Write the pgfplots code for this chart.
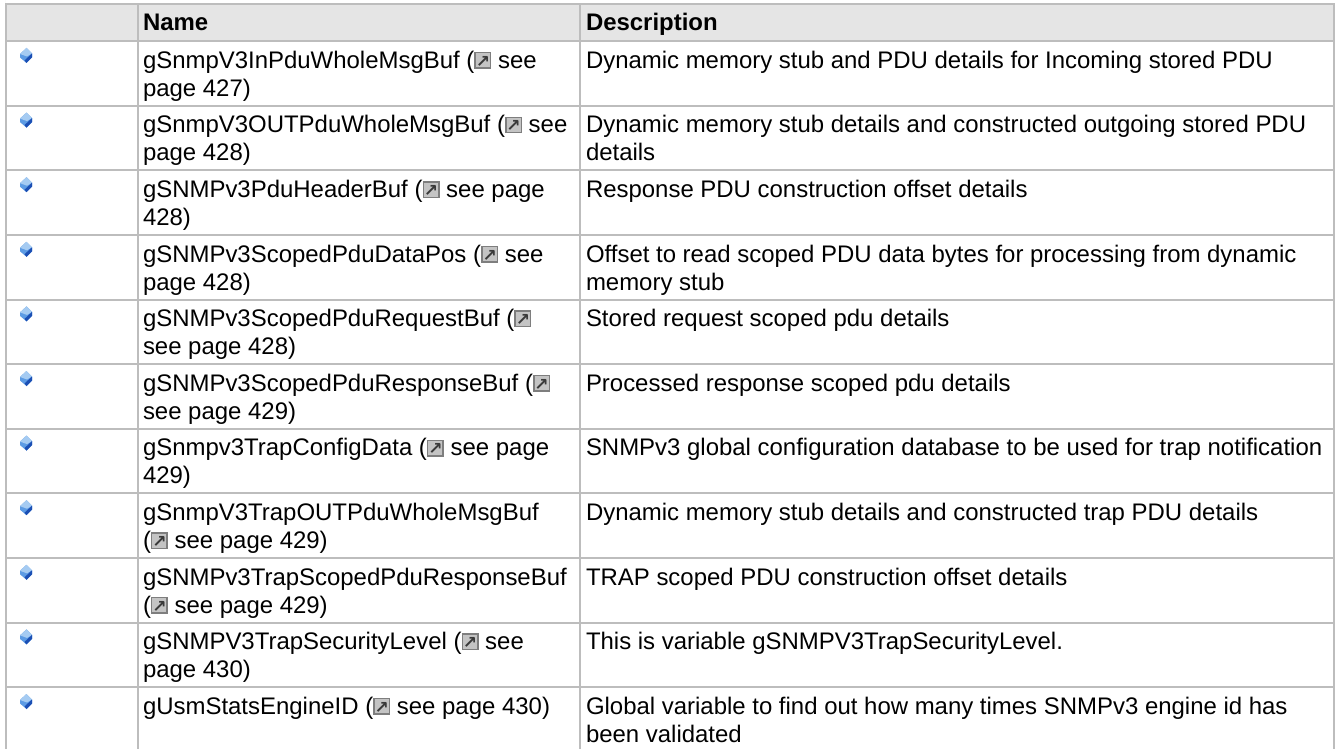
\documentclass[border=0pt]{standalone}
\usepackage{fontspec}
\usepackage{pgfplots}
\pgfplotsset{compat=1.18}
\setmainfont{Liberation Sans}
\newfontfamily\dv{DejaVu Sans}
\definecolor{gridc}{HTML}{BDBDBD}
\definecolor{headc}{HTML}{E5E5E5}
\definecolor{gemL}{HTML}{5C9BE4}
\definecolor{gemP}{HTML}{A5CBF2}
\definecolor{gemD}{HTML}{1B4FB4}
\newcommand{\lnk}{\raisebox{-0.6pt}{\rlap{\textcolor[HTML]{7E7E7E}{\rule{17pt}{17pt}}}\rlap{\hspace{1.5pt}\raisebox{1.5pt}{\textcolor[HTML]{C4C4C4}{\rule{14pt}{14pt}}}}\makebox[17pt]{\raisebox{1.6pt}{\fontsize{17}{17}\selectfont\dv\bfseries\textcolor[HTML]{3A3A3A}{↗}}}}}
\pgfdeclareplotmark{gem}{%
  \pgfsetlinewidth{0pt}%
  \pgfsetfillcolor{gemL}%
  \pgfpathmoveto{\pgfqpoint{0.5pt}{7.5pt}}\pgfpathlineto{\pgfqpoint{6pt}{2pt}}\pgfpathlineto{\pgfqpoint{6pt}{-2pt}}\pgfpathlineto{\pgfqpoint{0.5pt}{-7.5pt}}\pgfpathlineto{\pgfqpoint{-6pt}{-2pt}}\pgfpathlineto{\pgfqpoint{-6pt}{1.5pt}}\pgfpathclose\pgfusepath{fill}%
  \pgfsetfillcolor{gemP}%
  \pgfpathmoveto{\pgfqpoint{0.5pt}{7.5pt}}\pgfpathlineto{\pgfqpoint{6pt}{2pt}}\pgfpathlineto{\pgfqpoint{1pt}{-1pt}}\pgfpathlineto{\pgfqpoint{-6pt}{1.5pt}}\pgfpathclose\pgfusepath{fill}%
  \pgfsetfillcolor{gemD}%
  \pgfpathmoveto{\pgfqpoint{6pt}{2pt}}\pgfpathlineto{\pgfqpoint{6pt}{-2pt}}\pgfpathlineto{\pgfqpoint{0.5pt}{-7.5pt}}\pgfpathlineto{\pgfqpoint{-1.5pt}{-5pt}}\pgfpathclose\pgfusepath{fill}%
}
\begin{document}
\begin{tikzpicture}
\begin{axis}[
  hide axis, scale only axis, width=1338pt, height=749pt,
  xmin=0, xmax=1338, ymin=0, ymax=749, y dir=reverse,
  clip=true,
  nodes={inner sep=0pt, outer sep=0pt, anchor=base west, font=\fontsize{23.95}{28}\selectfont},
]
\addplot[fill=white, draw=none] coordinates {(0,0) (1338,0) (1338,749) (0,749)} \closedcycle;
\addplot[fill=headc, draw=none] coordinates {(5.5,4.5) (1334,4.5) (1334,41.5) (5.5,41.5)} \closedcycle;
\addplot[gridc, line width=2pt] coordinates {(5.5,749) (5.5,4.5) (1334,4.5) (1334,749)};
\addplot[gridc, line width=2pt] coordinates {(137.7,4.5) (137.7,749)};
\addplot[gridc, line width=2pt] coordinates {(580,4.5) (580,749)};
\addplot[gridc, line width=2pt] coordinates {(5.5,41.3) (1334,41.3)};
\addplot[gridc, line width=2pt] coordinates {(5.5,105.7) (1334,105.7)};
\addplot[gridc, line width=2pt] coordinates {(5.5,170.3) (1334,170.3)};
\addplot[gridc, line width=2pt] coordinates {(5.5,234.9) (1334,234.9)};
\addplot[gridc, line width=2pt] coordinates {(5.5,299.5) (1334,299.5)};
\addplot[gridc, line width=2pt] coordinates {(5.5,364.1) (1334,364.1)};
\addplot[gridc, line width=2pt] coordinates {(5.5,428.7) (1334,428.7)};
\addplot[gridc, line width=2pt] coordinates {(5.5,493.3) (1334,493.3)};
\addplot[gridc, line width=2pt] coordinates {(5.5,557.9) (1334,557.9)};
\addplot[gridc, line width=2pt] coordinates {(5.5,622.5) (1334,622.5)};
\addplot[gridc, line width=2pt] coordinates {(5.5,687.1) (1334,687.1)};
\addplot[only marks, mark=gem] coordinates {(26,55.5) (26,120.1) (26,184.7) (26,249.3) (26,313.9) (26,378.5) (26,443.1) (26,507.7) (26,572.3) (26,636.9) (26,701.5)};
\node at (axis cs:143,30.7) {\bfseries Name};
\node at (axis cs:586,30.7) {\bfseries Description};
\node at (axis cs:143,68.3) {gSnmpV3InPduWholeMsgBuf (\lnk{} see};
\node at (axis cs:143,96.3) {page 427)};
\node at (axis cs:143,132.9) {gSnmpV3OUTPduWholeMsgBuf (\lnk{} see};
\node at (axis cs:143,160.9) {page 428)};
\node at (axis cs:143,197.5) {gSNMPv3PduHeaderBuf (\lnk{} see page};
\node at (axis cs:143,225.5) {428)};
\node at (axis cs:143,262.1) {gSNMPv3ScopedPduDataPos (\lnk{} see};
\node at (axis cs:143,290.1) {page 428)};
\node at (axis cs:143,326.7) {gSNMPv3ScopedPduRequestBuf (\lnk};
\node at (axis cs:143,354.7) {see page 428)};
\node at (axis cs:143,391.3) {gSNMPv3ScopedPduResponseBuf (\lnk};
\node at (axis cs:143,419.3) {see page 429)};
\node at (axis cs:143,455.9) {gSnmpv3TrapConfigData (\lnk{} see page};
\node at (axis cs:143,483.9) {429)};
\node at (axis cs:143,520.5) {gSnmpV3TrapOUTPduWholeMsgBuf};
\node at (axis cs:143,548.5) {(\lnk{} see page 429)};
\node at (axis cs:143,585.1) {gSNMPv3TrapScopedPduResponseBuf};
\node at (axis cs:143,613.1) {(\lnk{} see page 429)};
\node at (axis cs:143,649.7) {gSNMPV3TrapSecurityLevel (\lnk{} see};
\node at (axis cs:143,677.7) {page 430)};
\node at (axis cs:143,714.3) {gUsmStatsEngineID (\lnk{} see page 430)};
\node at (axis cs:586,68.3) {Dynamic memory stub and PDU details for Incoming stored PDU};
\node at (axis cs:586,132.9) {Dynamic memory stub details and constructed outgoing stored PDU};
\node at (axis cs:586,160.9) {details};
\node at (axis cs:586,197.5) {Response PDU construction offset details};
\node at (axis cs:586,262.1) {Offset to read scoped PDU data bytes for processing from dynamic};
\node at (axis cs:586,290.1) {memory stub};
\node at (axis cs:586,326.7) {Stored request scoped pdu details};
\node at (axis cs:586,391.3) {Processed response scoped pdu details};
\node at (axis cs:586,455.9) {SNMPv3 global configuration database to be used for trap notification};
\node at (axis cs:586,520.5) {Dynamic memory stub details and constructed trap PDU details};
\node at (axis cs:586,585.1) {TRAP scoped PDU construction offset details};
\node at (axis cs:586,649.7) {This is variable gSNMPV3TrapSecurityLevel.};
\node at (axis cs:586,714.3) {Global variable to find out how many times SNMPv3 engine id has};
\node at (axis cs:586,742.3) {been validated};
\end{axis}
\end{tikzpicture}
\end{document}
